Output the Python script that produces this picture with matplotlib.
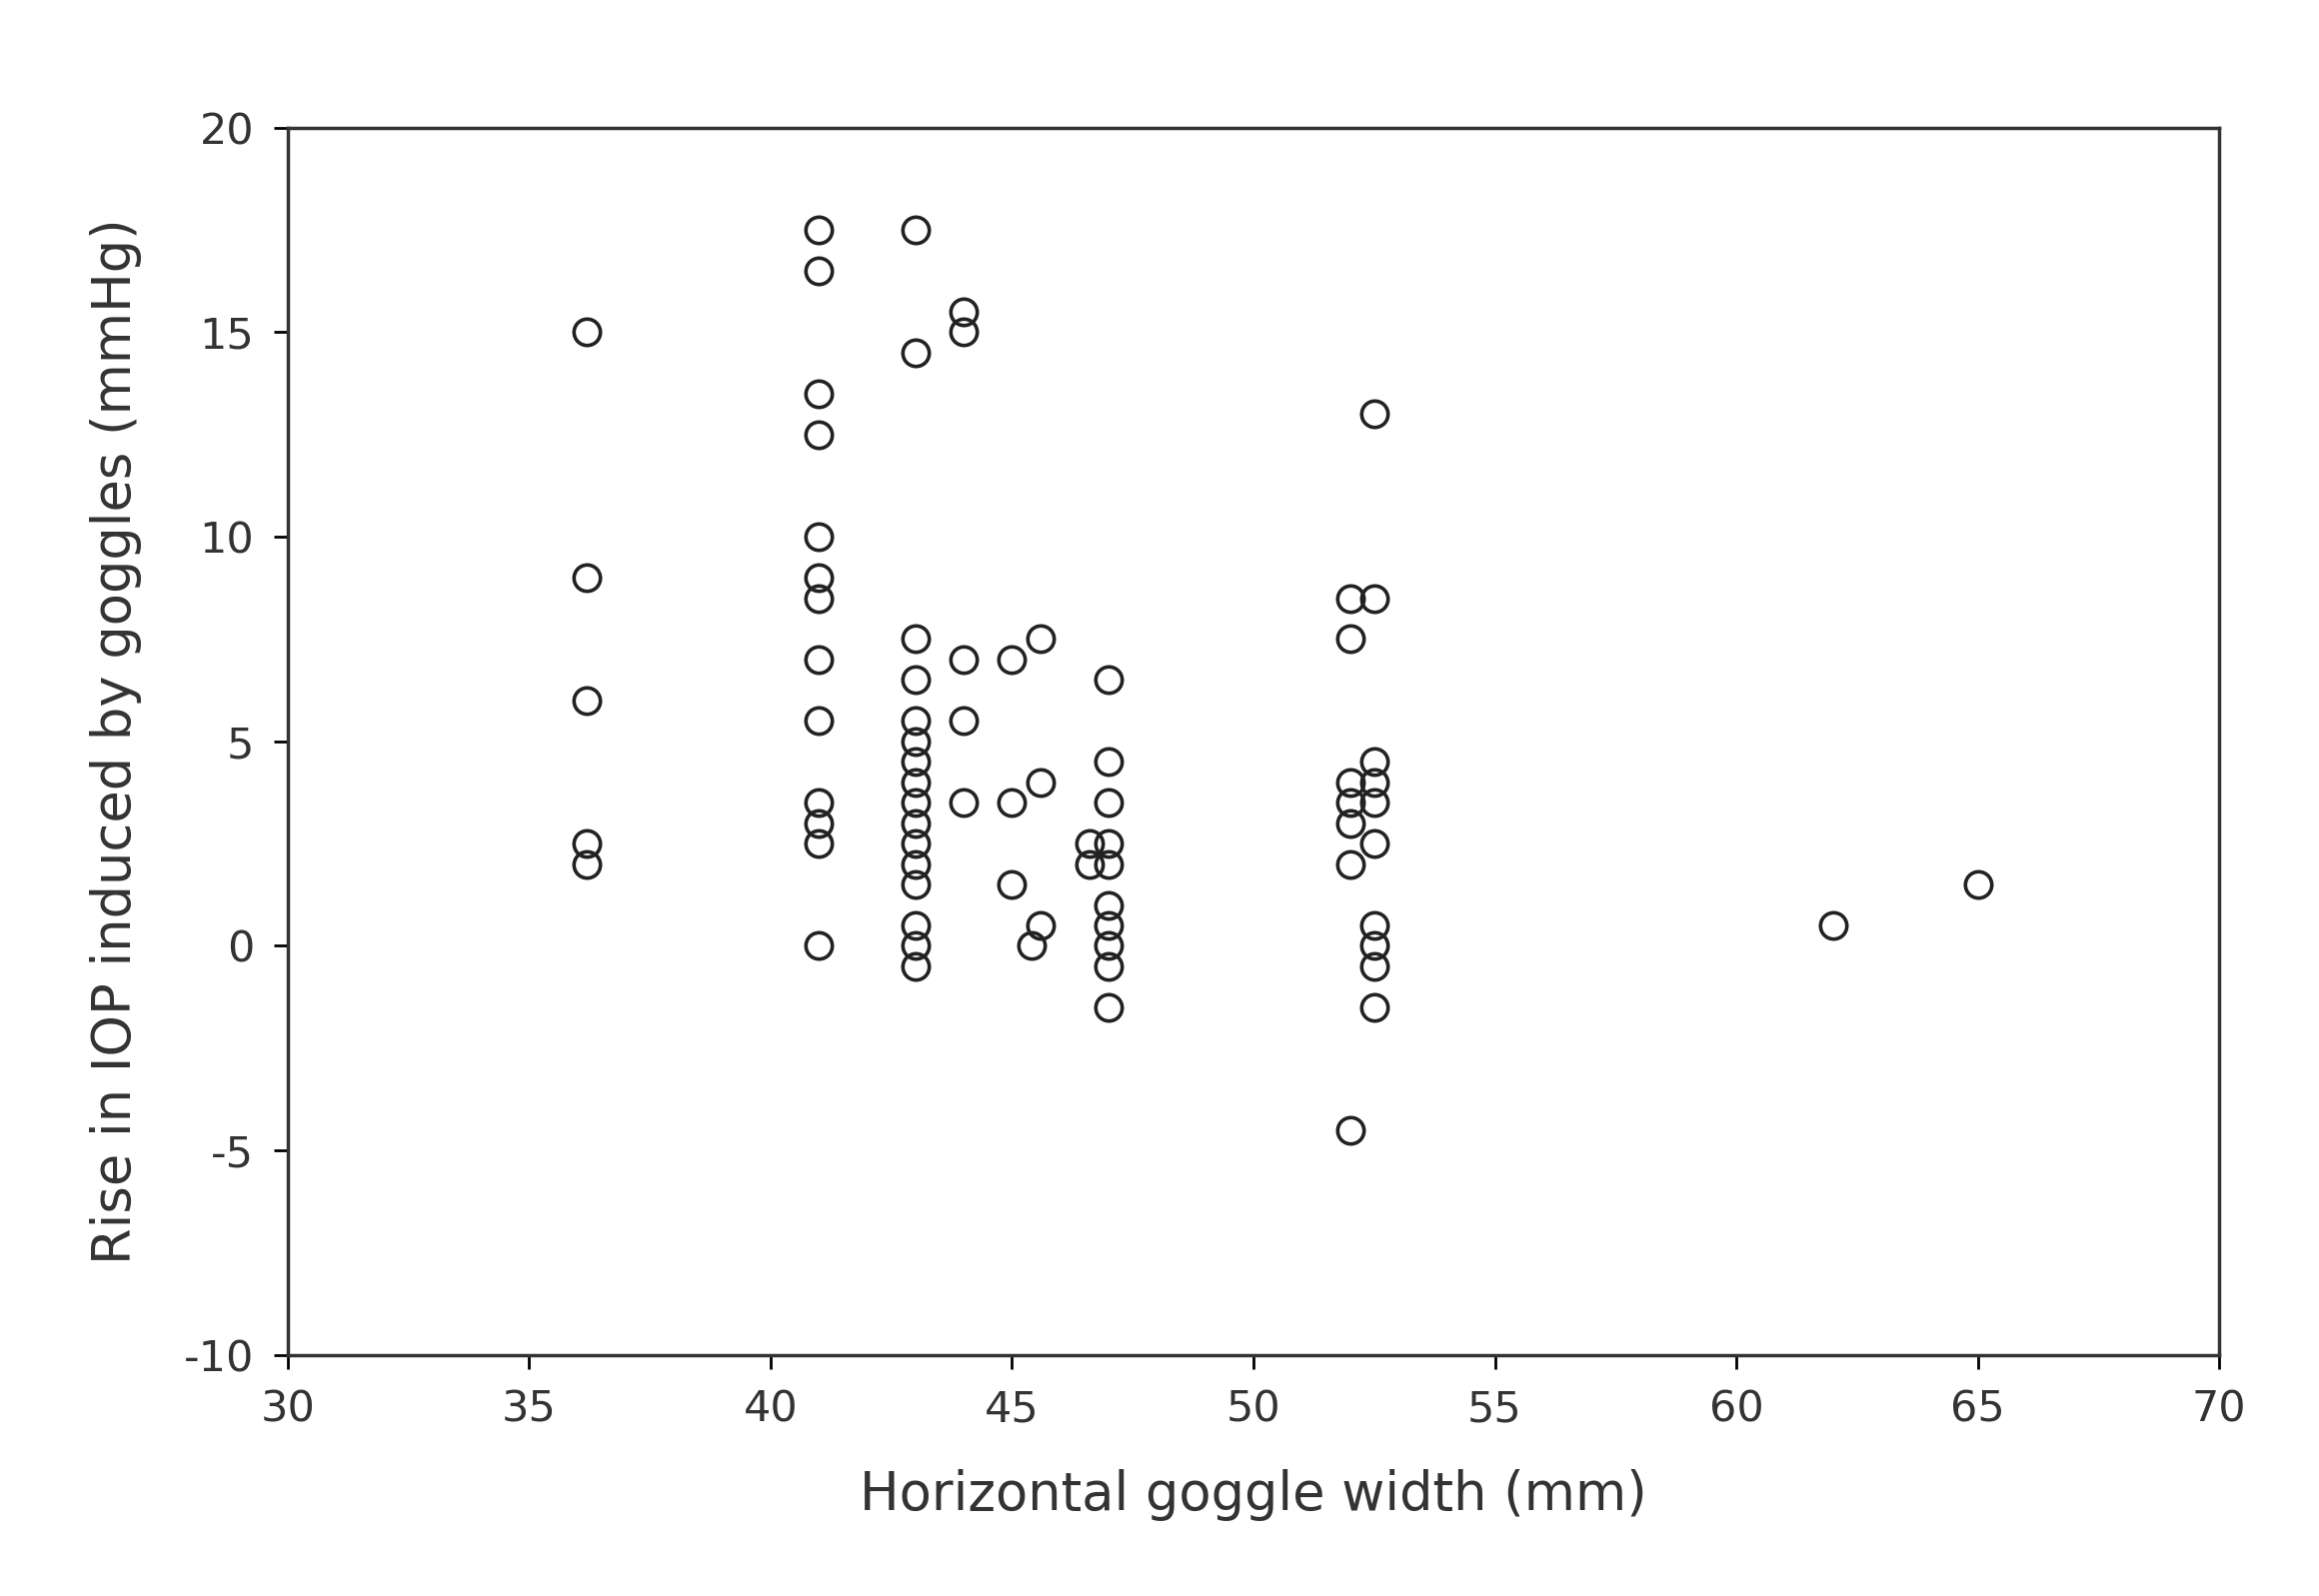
import matplotlib
matplotlib.use("Agg")
import matplotlib.pyplot as plt

plt.rcParams["axes.unicode_minus"] = False

# goggle width (mm) -> rises in IOP (mmHg)
width_groups = [36.2, 41, 43, 44, 45, 45.6, 45.4, 46.6, 47, 52, 52.5, 62, 65]
iop_groups = [
    [15, 9, 6, 2.5, 2],
    [17.5, 16.5, 13.5, 12.5, 10, 9, 8.5, 7, 5.5, 3.5, 3, 2.5, 0],
    [17.5, 14.5, 7.5, 6.5, 5.5, 5, 4.5, 4, 3.5, 3, 2.5, 2, 1.5, 0.5, 0, -0.5],
    [15.5, 15, 7, 5.5, 3.5],
    [7, 3.5, 1.5],
    [7.5, 4, 0.5],
    [0],
    [2.5, 2],
    [6.5, 4.5, 3.5, 2.5, 2, 1, 0.5, 0, -0.5, -1.5],
    [8.5, 7.5, 4, 3.5, 3, 2, -4.5],
    [13, 8.5, 4.5, 4, 3.5, 2.5, 0.5, 0, -0.5, -1.5],
    [0.5],
    [1.5],
]
x_ticks = [30, 35, 40, 45, 50, 55, 60, 65, 70]
y_ticks = [-10, -5, 0, 5, 10, 15, 20]

xs = [w for w, vals in zip(width_groups, iop_groups) for _ in vals]
ys = [v for vals in iop_groups for v in vals]

fig = plt.figure(figsize=(23.2, 15.97), dpi=100)
ax = fig.add_axes([0.124, 0.151, 0.833, 0.769])
ax.plot(xs, ys, "o", mfc="none", mec="#222222", mew=2.6, ms=19)
ax.set_xlim(30, 70)
ax.set_ylim(-10, 20)
ax.set_xticks(x_ticks)
ax.set_yticks(y_ticks)
ax.tick_params(labelsize=31, labelcolor="#333333", length=10, width=2, pad=14)
for s in ax.spines.values():
    s.set_linewidth(2.5)
    s.set_color("#333333")
ax.set_xlabel("Horizontal goggle width (mm)", fontsize=38, color="#333333", labelpad=28)
ax.set_ylabel("Rise in IOP induced by goggles (mmHg)", fontsize=38, color="#333333", labelpad=30)
fig.savefig("out.png")
